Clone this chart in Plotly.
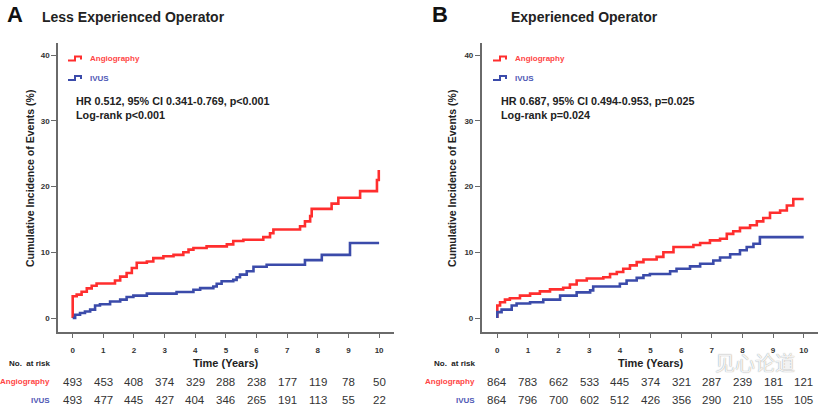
import plotly.graph_objects as go

W, H = 821, 405

# ---------------- data ----------------
years_ticks = [0, 1, 2, 3, 4, 5, 6, 7, 8, 9, 10]
y_ticks = [0, 10, 20, 30, 40]

# Panel A: Less experienced operator
a_angio_t = [0, 0.0, 0.13, 0.29, 0.46, 0.62, 0.78, 1.38, 1.55, 1.76, 1.93, 2.09, 2.42, 2.63, 2.96,
             3.29, 3.61, 3.78, 3.94, 4.37, 5.03, 5.24, 5.57, 6.22, 6.44, 6.55, 7.42, 7.58, 7.75,
             7.80, 8.45, 8.67, 9.38, 9.93, 9.99]
a_angio_v = [0, 3.3, 3.55, 4.0, 4.5, 4.9, 5.25, 5.7, 6.3, 6.85, 7.6, 8.4, 8.6, 9.1, 9.4,
             9.6, 10.0, 10.4, 10.65, 10.9, 11.2, 11.7, 11.9, 12.3, 12.9, 13.45, 13.95, 14.7, 15.5,
             16.6, 17.4, 18.3, 19.3, 21.0, 22.5]
a_ivus_t = [0, 0.08, 0.24, 0.40, 0.57, 0.73, 0.89, 1.22, 1.55, 1.76, 1.98, 2.42, 3.39, 3.94, 4.16,
            4.59, 4.70, 4.86, 5.24, 5.35, 5.46, 5.68, 5.90, 6.33, 7.58, 8.13, 9.05, 10.0]
a_ivus_v = [0, 0.5, 0.76, 1.0, 1.27, 1.9, 2.1, 2.5, 2.8, 3.2, 3.4, 3.7, 3.95, 4.3, 4.55,
            4.8, 5.2, 5.6, 5.8, 6.2, 6.6, 7.1, 7.8, 8.1, 8.8, 9.6, 11.4, 11.4]

# Panel B: Experienced operator
b_angio_t = [0, 0.0, 0.09, 0.25, 0.41, 0.74, 1.07, 1.39, 1.72, 2.15, 2.37, 2.59, 2.92, 3.46, 3.68,
             3.90, 4.11, 4.33, 4.55, 4.77, 5.20, 5.42, 5.75, 6.40, 6.62, 6.94, 7.27, 7.49, 7.70,
             7.92, 8.25, 8.47, 8.68, 8.90, 9.23, 9.45, 9.66, 10.0]
b_angio_v = [0, 1.9, 2.4, 2.8, 3.0, 3.4, 3.7, 4.05, 4.35, 4.6, 5.1, 5.7, 6.0, 6.2, 6.7,
             7.0, 7.5, 8.0, 8.5, 8.9, 9.3, 10.0, 10.8, 11.1, 11.4, 11.8, 12.05, 12.8, 13.2,
             13.7, 14.1, 14.7, 15.2, 16.0, 16.35, 17.1, 18.1, 18.1]
b_ivus_t = [0, 0.0, 0.14, 0.47, 0.63, 1.07, 1.50, 2.05, 2.59, 3.03, 3.13, 4.00, 4.22, 4.55, 4.77,
            4.98, 5.64, 5.85, 6.29, 6.62, 7.05, 7.27, 7.60, 7.92, 8.14, 8.36, 8.57, 10.0]
b_ivus_v = [0, 0.9, 1.27, 1.9, 2.2, 2.4, 2.8, 3.4, 3.9, 4.2, 4.8, 5.2, 5.7, 6.1, 6.5,
            6.7, 7.1, 7.5, 7.85, 8.25, 8.75, 9.2, 9.7, 10.3, 10.8, 11.3, 12.3, 12.3]

# Numbers at risk
a_risk_angio = [493, 453, 408, 374, 329, 288, 238, 177, 119, 78, 50]
a_risk_ivus = [493, 477, 445, 427, 404, 346, 265, 191, 113, 55, 22]
b_risk_angio = [864, 783, 662, 533, 445, 374, 321, 287, 239, 181, 121]
b_risk_ivus = [864, 796, 700, 602, 512, 426, 356, 290, 210, 155, 105]

series_names = ["Angiography", "IVUS"]
titles = ["Less Experienced Operator", "Experienced Operator"]
panel_letters = ["A", "B"]
hr_texts = ["HR 0.512, 95% CI 0.341-0.769, p<0.001<br>Log-rank p<0.001",
            "HR 0.687, 95% CI 0.494-0.953, p=0.025<br>Log-rank p=0.024"]

# ---------------- style ----------------
RED = "#FF2E2E"
BLUE = "#3B4BAA"
RED_TXT = "#FF4545"
BLUE_TXT = "#5058B5"
AX = "#6a6a6a"
FONT = "Liberation Sans, Arial, sans-serif"


def px(x):
    return x / W


def py(y):
    return 1 - y / H


fig = go.Figure()

panels = [
    dict(xa="x", ya="y", angio=(a_angio_t, a_angio_v), ivus=(a_ivus_t, a_ivus_v),
         ra=a_risk_angio, ri=a_risk_ivus, x0=58, x1=394, ticks0=72.7),
    dict(xa="x2", ya="y2", angio=(b_angio_t, b_angio_v), ivus=(b_ivus_t, b_ivus_v),
         ra=b_risk_angio, ri=b_risk_ivus, x0=481.7, x1=818, ticks0=497.3),
]

for p in panels:
    fig.add_trace(go.Scatter(x=p["angio"][0], y=p["angio"][1], mode="lines", line_shape="hv",
                             line=dict(color=RED, width=2.6), xaxis=p["xa"], yaxis=p["ya"],
                             name=series_names[0], showlegend=False, hoverinfo="skip"))
    fig.add_trace(go.Scatter(x=p["ivus"][0], y=p["ivus"][1], mode="lines", line_shape="hv",
                             line=dict(color=BLUE, width=2.6), xaxis=p["xa"], yaxis=p["ya"],
                             name=series_names[1], showlegend=False, hoverinfo="skip"))

PPY = 30.64  # px per year
y_top, y_bot = 43, 331.7
y0px, ppu = 318.0, 6.575
yr = [(y0px - y_bot) / ppu, (y0px - y_top) / ppu]

axis_common = dict(showline=True, linecolor=AX, linewidth=1.6, ticks="outside", tickcolor=AX,
                   tickwidth=1.2, showgrid=False, zeroline=False,
                   tickfont=dict(family=FONT, size=8, color="#333", weight="bold"))

for i, p in enumerate(panels):
    xr = [(p["x0"] - p["ticks0"]) / PPY, (p["x1"] - p["ticks0"]) / PPY]
    suffix = "" if i == 0 else "2"
    fig.update_layout(**{
        "xaxis" + suffix: dict(domain=[px(p["x0"]), px(p["x1"])], range=xr, tickvals=years_ticks,
                               ticklen=4, ticklabelstandoff=6, anchor="y" + suffix, **axis_common),
        "yaxis" + suffix: dict(domain=[py(y_bot), py(y_top)], range=yr, tickvals=y_ticks,
                               ticklen=5, anchor="x" + suffix, **axis_common),
    })

ann = []
shapes = []
for i, p in enumerate(panels):
    xa = p["xa"]
    # panel letter and title
    ann.append(dict(text=panel_letters[i], x=px([5, 430][i]), y=py(15), xref="paper", yref="paper",
                    xanchor="left", yanchor="middle", showarrow=False,
                    font=dict(family=FONT, size=22, color="#111", weight="bold")))
    ann.append(dict(text=titles[i], x=px([40, 509][i]), y=py(16.5), xref="paper", yref="paper",
                    xanchor="left", yanchor="middle", showarrow=False,
                    font=dict(family=FONT, size=14, color="#222", weight="bold")))
    # y axis title
    ann.append(dict(text="Cumulative Incidence of Events (%)", x=px([30, 452][i]), y=py(179),
                    xref="paper", yref="paper", textangle=-90, showarrow=False,
                    xanchor="center", yanchor="middle",
                    font=dict(family=FONT, size=10.5, color="#222", weight="bold")))
    # legend
    lx = [68, 493][i]
    tx = [88, 513][i]
    for k, (nm, col, tcol, yy) in enumerate([(series_names[0], RED, RED_TXT, 58.5),
                                             (series_names[1], BLUE, BLUE_TXT, 78)]):
        path = f"M {px(lx)} {py(yy + 2)} L {px(lx + 7)} {py(yy + 2)} L {px(lx + 7)} {py(yy - 2)} " \
               f"L {px(lx + 13)} {py(yy - 2)} L {px(lx + 13)} {py(yy + 1)}"
        shapes.append(dict(type="path", path=path, xref="paper", yref="paper",
                           line=dict(color=col, width=2)))
        ann.append(dict(text=nm, x=px(tx), y=py(yy), xref="paper", yref="paper",
                        xanchor="left", yanchor="middle", showarrow=False,
                        font=dict(family=FONT, size=8, color=tcol, weight="bold")))
    # HR text
    ann.append(dict(text=hr_texts[i], x=px([74, 499][i]), y=py(107.5), xref="paper", yref="paper",
                    xanchor="left", yanchor="middle", align="left", showarrow=False,
                    font=dict(family=FONT, size=10.8, color="#222", weight="bold")))
    # x title
    ann.append(dict(text="Time (Years)", x=5, y=py(363), xref=xa, yref="paper",
                    xanchor="center", yanchor="middle", showarrow=False,
                    font=dict(family=FONT, size=11, color="#222", weight="bold")))
    # at-risk labels
    rx = [52, 477][i]
    ann.append(dict(text="No.  at risk", x=px(rx), y=py(363), xref="paper", yref="paper",
                    xanchor="right", yanchor="middle", showarrow=False,
                    font=dict(family=FONT, size=8, color="#222", weight="bold")))
    ann.append(dict(text=series_names[0], x=px(rx), y=py(381.5), xref="paper", yref="paper",
                    xanchor="right", yanchor="middle", showarrow=False,
                    font=dict(family=FONT, size=8, color=RED_TXT, weight="bold")))
    ann.append(dict(text=series_names[1], x=px(rx), y=py(400), xref="paper", yref="paper",
                    xanchor="right", yanchor="middle", showarrow=False,
                    font=dict(family=FONT, size=8, color=BLUE_TXT, weight="bold")))
    for t, va, vi in zip(years_ticks, p["ra"], p["ri"]):
        ann.append(dict(text=str(va), x=t, y=py(381.5), xref=xa, yref="paper",
                        xanchor="center", yanchor="middle", showarrow=False,
                        font=dict(family=FONT, size=11.5, color="#333")))
        ann.append(dict(text=str(vi), x=t, y=py(400), xref=xa, yref="paper",
                        xanchor="center", yanchor="middle", showarrow=False,
                        font=dict(family=FONT, size=11.5, color="#333")))

# watermark
ann.append(dict(text="见心论道", x=px(755), y=py(362), xref="paper", yref="paper",
                xanchor="center", yanchor="middle", showarrow=False,
                font=dict(family="Noto Sans CJK SC", size=20, color="rgba(255,255,255,0.9)",
                          shadow="0px 0px 1px #777")))

fig.update_layout(width=W, height=H, margin=dict(l=0, r=0, t=0, b=0),
                  paper_bgcolor="white", plot_bgcolor="white",
                  annotations=ann, shapes=shapes, showlegend=False,
                  font=dict(family=FONT))

fig.write_html("out.html", config={"displayModeBar": False},
               post_script="document.body.style.margin='0';document.body.style.overflow='hidden';")
